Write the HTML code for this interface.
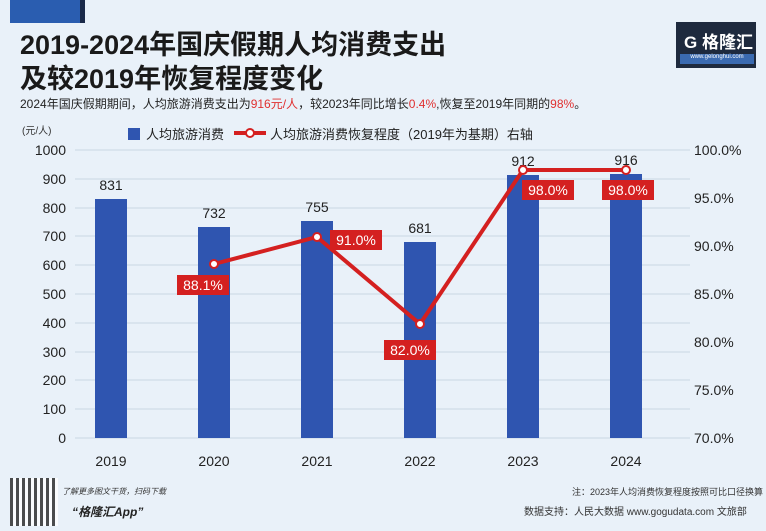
<!DOCTYPE html><html><head><meta charset="utf-8"><style>
body{margin:0;width:766px;height:531px;background:#e9f1f9;overflow:hidden;font-family:"Liberation Sans","Noto Sans CJK SC",sans-serif;position:relative}
.a{position:absolute;white-space:nowrap}
</style></head><body>
<div class="a" style="left:10px;top:0;width:70px;height:23px;background:#2a5db0;border-right:5px solid #1a2a4a"></div>
<div class="a" style="left:676px;top:22px;width:80px;height:46px;background:#1e2a3e"></div>
<div class="a" style="left:684px;top:28px;font-size:17px;color:#fff;font-weight:bold">G 格隆汇</div>
<div class="a" style="left:680px;top:54px;width:74px;height:10px;background:#3a6ab0;font-size:6px;color:#fff;text-align:center">www.gelonghui.com</div>
<div class="a" style="left:20px;top:28px;font-size:27px;font-weight:bold;color:#1a1a1a;line-height:34px">2019-2024年国庆假期人均消费支出<br>及较2019年恢复程度变化</div>
<div class="a" style="left:20px;top:95px;font-size:12px;color:#222">2024年国庆假期期间，人均旅游消费支出为<span style="color:#e03030">916元/人</span>，较2023年同比增长<span style="color:#e03030">0.4%</span>,恢复至2019年同期的<span style="color:#e03030">98%</span>。</div>
<div class="a" style="left:22px;top:122px;font-size:10px;color:#333">(元/人)</div>
<div class="a" style="left:128px;top:128px;width:12px;height:12px;background:#2f55b0"></div>
<div class="a" style="left:146px;top:124px;font-size:13px;color:#222">人均旅游消费</div>
<svg class="a" style="left:232px;top:126px" width="36" height="14"><line x1="2" y1="7" x2="34" y2="7" stroke="#d42020" stroke-width="4"/><circle cx="18" cy="7" r="4" fill="#fff" stroke="#d42020" stroke-width="2"/></svg>
<div class="a" style="left:270px;top:124px;font-size:13px;color:#222">人均旅游消费恢复程度（2019年为基期）右轴</div>
<svg class="a" style="left:0;top:0" width="766" height="531" font-family="Liberation Sans, sans-serif">
<g stroke="#c9d6e4" stroke-width="1">
<line x1="75" x2="690" y1="150" y2="150"/><line x1="75" x2="690" y1="179" y2="179"/><line x1="75" x2="690" y1="208" y2="208"/><line x1="75" x2="690" y1="236" y2="236"/><line x1="75" x2="690" y1="265" y2="265"/><line x1="75" x2="690" y1="294" y2="294"/><line x1="75" x2="690" y1="323" y2="323"/><line x1="75" x2="690" y1="352" y2="352"/><line x1="75" x2="690" y1="380" y2="380"/><line x1="75" x2="690" y1="409" y2="409"/><line x1="75" x2="690" y1="438" y2="438"/></g>
<g font-size="14" fill="#222" text-anchor="end">
<text x="66" y="155">1000</text><text x="66" y="184">900</text><text x="66" y="213">800</text><text x="66" y="241">700</text><text x="66" y="270">600</text><text x="66" y="299">500</text><text x="66" y="328">400</text><text x="66" y="357">300</text><text x="66" y="385">200</text><text x="66" y="414">100</text><text x="66" y="443">0</text></g>
<g font-size="14" fill="#222">
<text x="694" y="155">100.0%</text><text x="694" y="203">95.0%</text><text x="694" y="251">90.0%</text><text x="694" y="299">85.0%</text><text x="694" y="347">80.0%</text><text x="694" y="395">75.0%</text><text x="694" y="443">70.0%</text></g>
<g fill="#2f55b0">
<rect x="95" y="199" width="32" height="239"/><rect x="198" y="227" width="32" height="211"/><rect x="301" y="221" width="32" height="217"/><rect x="404" y="242" width="32" height="196"/><rect x="507" y="175" width="32" height="263"/><rect x="610" y="174" width="32" height="264"/></g>
<g font-size="14" fill="#222" text-anchor="middle">
<text x="111" y="190">831</text><text x="214" y="218">732</text><text x="317" y="212">755</text><text x="420" y="233">681</text><text x="523" y="166">912</text><text x="626" y="165">916</text>
<text x="111" y="466">2019</text><text x="214" y="466">2020</text><text x="317" y="466">2021</text><text x="420" y="466">2022</text><text x="523" y="466">2023</text><text x="626" y="466">2024</text></g>
<polyline points="214,264 317,237 420,324 523,170 626,170" fill="none" stroke="#d42020" stroke-width="4"/>
<g fill="#fff" stroke="#d42020" stroke-width="2"><circle cx="214" cy="264" r="4"/><circle cx="317" cy="237" r="4"/><circle cx="420" cy="324" r="4"/><circle cx="523" cy="170" r="4"/><circle cx="626" cy="170" r="4"/></g>
<g fill="#d42020"><rect x="177" y="275" width="52" height="20"/><rect x="330" y="230" width="52" height="20"/><rect x="384" y="340" width="52" height="20"/><rect x="522" y="180" width="52" height="20"/><rect x="602" y="180" width="52" height="20"/></g>
<g font-size="14" fill="#fff" text-anchor="middle"><text x="203" y="290">88.1%</text><text x="356" y="245">91.0%</text><text x="410" y="355">82.0%</text><text x="548" y="195">98.0%</text><text x="628" y="195">98.0%</text></g>
</svg>
<div class="a" style="left:10px;top:478px;width:48px;height:48px;background:repeating-linear-gradient(90deg,#222 0 3px,#fff 3px 6px);opacity:.8"></div>
<div class="a" style="left:62px;top:486px;font-size:8px;color:#333;font-style:italic">了解更多图文干货，扫码下载</div>
<div class="a" style="left:72px;top:503px;font-size:12px;color:#222;font-style:italic;font-weight:bold">“格隆汇App”</div>
<div class="a" style="left:572px;top:485px;font-size:9px;color:#333">注：2023年人均消费恢复程度按照可比口径换算</div>
<div class="a" style="left:524px;top:503px;font-size:10px;color:#333">数据支持：人民大数据 www.gogudata.com 文旅部</div>
</body></html>
